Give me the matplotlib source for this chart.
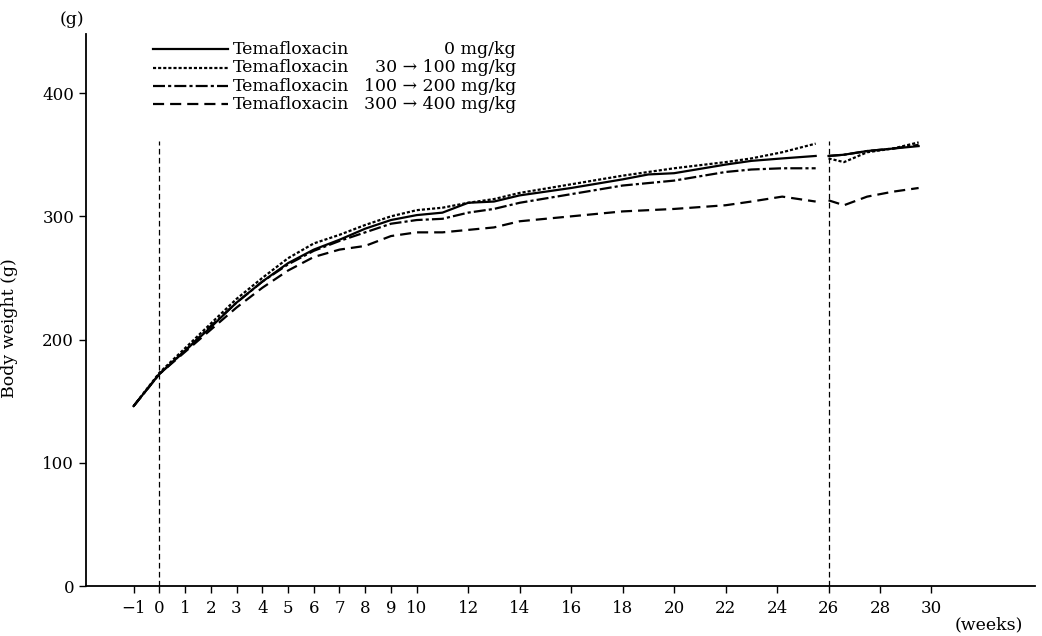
import matplotlib
matplotlib.use("Agg")
import matplotlib.pyplot as plt

plt.rcParams['font.family'] = ['DejaVu Serif', 'DejaVu Sans']

# weeks for the dosing period (before week 26)
weeks_a = [-1, 0, 1, 2, 3, 4, 5, 6, 7, 8, 9, 10, 11, 12, 13, 14, 16, 18, 19,
           20, 22, 23, 24.2, 25.5]
# weeks after the dose change at week 26
weeks_b = [26, 26.6, 27.5, 28.5, 29.5]

ctrl_a = [146, 172, 191, 210, 230, 247, 262, 273, 281, 290, 297, 301, 303, 311,
          312, 317, 323, 330, 334, 335, 342, 345, 347, 349]
ctrl_b = [349, 350, 353, 355, 357]

low_a = [146, 173, 193, 213, 233, 250, 266, 278, 285, 293, 300, 305, 307, 311,
         314, 319, 326, 333, 336, 339, 344, 347, 352, 359]
low_b = [347, 344, 352, 355, 360]

mid_a = [146, 172, 191, 211, 230, 247, 261, 272, 280, 287, 294, 297, 298, 303,
         306, 311, 318, 325, 327, 329, 336, 338, 339, 339]
mid_b = [349, 350, 353, 355, 358]

high_a = [146, 172, 190, 208, 226, 242, 256, 267, 273, 276, 284, 287, 287, 289,
          291, 296, 300, 304, 305, 306, 309, 312, 316, 312]
high_b = [313, 309, 316, 320, 323]

labels = ["Temafloxacin", "Temafloxacin", "Temafloxacin", "Temafloxacin"]
doses = ["0 mg/kg", "30 \u2192 100 mg/kg", "100 \u2192 200 mg/kg",
         "300 \u2192 400 mg/kg"]

xticks = [-1, 0, 1, 2, 3, 4, 5, 6, 7, 8, 9, 10, 12, 14, 16, 18, 20, 22, 24,
          26, 28, 30]
yticks = [0, 100, 200, 300, 400]

styles = [
    '-',
    (0, (1.4, 0.9)),
    (0, (5.4, 1.4, 1.4, 1.4)),
    (0, (5.0, 2.7)),
]
series = [(ctrl_a, ctrl_b), (low_a, low_b), (mid_a, mid_b), (high_a, high_b)]

fig = plt.figure(figsize=(10.42, 6.36), dpi=100)
ax = fig.add_axes([0.0825, 0.0786, 0.911, 0.868])

lw = 1.6
for (ya, yb), ls in zip(series, styles):
    ax.plot(weeks_a, ya, color='black', lw=lw, linestyle=ls)
    ax.plot(weeks_b, yb, color='black', lw=lw, linestyle=ls)

# dose start / dose change markers
for wk in [0, 26]:
    ax.plot([wk, wk], [0, 361], color='black', lw=0.9,
            linestyle=(0, (4.5, 2.7)))

ax.set_xlim(-2.85, 34.03)
ax.set_ylim(0, 448)
ax.set_xticks(xticks)
ax.set_xticklabels([str(t).replace('-', '\u2212') for t in xticks])
ax.set_yticks(yticks)
ax.tick_params(direction='out', length=5, width=1.0, labelsize=12,
               colors='black')
ax.tick_params(axis='x', pad=5)
for s in ['top', 'right']:
    ax.spines[s].set_visible(False)
for s in ['left', 'bottom']:
    ax.spines[s].set_linewidth(1.3)

ax.set_ylabel("Body weight (g)", fontsize=12.5)
ax.yaxis.set_label_coords(-0.0717, 0.467)
ax.text(-0.0148, 1.027, "(g)", transform=ax.transAxes, ha='center',
        va='center', fontsize=12.5)
ax.text(0.987, -0.0707, "(weeks)", transform=ax.transAxes, ha='right',
        va='center', fontsize=12.5)

# hand-made legend
rows = [0.9725, 0.939, 0.9055, 0.8725]
for y, ls, lab, dose in zip(rows, styles, labels, doses):
    ax.plot([0.0703, 0.1496], [y, y], transform=ax.transAxes, color='black',
            lw=lw, linestyle=ls, clip_on=False)
    ax.text(0.1550, y, lab, transform=ax.transAxes, ha='left', va='center',
            fontsize=12.5)
    ax.text(0.4530, y, dose, transform=ax.transAxes, ha='right',
            va='center', fontsize=12.5)

fig.savefig("out.png", dpi=100)
